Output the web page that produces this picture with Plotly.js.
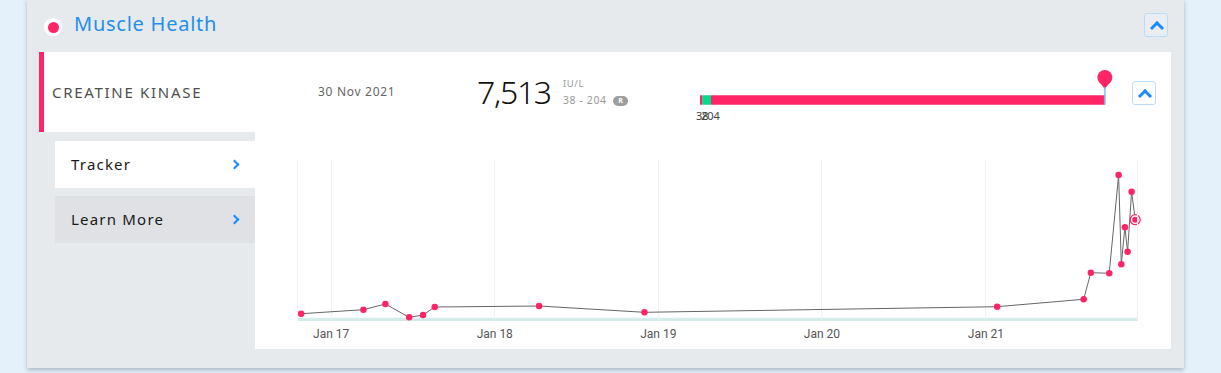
<!DOCTYPE html>
<html>
<head>
<meta charset="utf-8">
<script src="https://cdn.plot.ly/plotly-3.0.1.min.js"></script>
<style>
  html,body{margin:0;padding:0;}
  body{width:1221px;height:373px;background:#e4f0fa;overflow:hidden;position:relative;font-family:"Noto Sans",sans-serif;}
  .abs{position:absolute;}
  #card{left:27px;top:0;width:1157px;height:368px;background:#e7eaed;box-shadow:0 3px 3px rgba(120,140,155,0.35), -2px 0 3px rgba(120,140,155,0.12), 2px 0 3px rgba(120,140,155,0.12);}
  #dotOuter{left:44px;top:18px;width:18px;height:18px;border-radius:50%;background:#fff;}
  #dotInner{left:47.5px;top:21.5px;width:11px;height:11px;border-radius:50%;background:#ff2466;}
  #title{left:74px;top:10px;font-size:20px;line-height:28px;color:#1e8ff0;letter-spacing:0.75px;white-space:nowrap;}
  .btn{width:22px;height:22px;border:1px solid #b8dcfa;border-radius:3px;}
  .up{position:absolute;left:7px;top:9px;width:7px;height:7px;border-left:3px solid #1a8cff;border-top:3px solid #1a8cff;transform:rotate(45deg);}
  #btn1{left:1144px;top:13px;background:#eaeef2;}
  #btn2{left:1132px;top:81px;background:#fff;}
  #hdrRow{left:39px;top:52px;width:1132px;height:80px;background:#fff;}
  #pinkBar{left:39px;top:52px;width:4.5px;height:80px;background:#ff2466;}
  #testName{left:52px;top:81px;font-size:15px;line-height:22px;color:#4f4f4f;letter-spacing:1.7px;white-space:nowrap;}
  #testDate{left:318px;top:83px;font-size:12px;line-height:18px;color:#666;letter-spacing:0.7px;white-space:nowrap;}
  #bigVal{left:477px;top:70px;font-size:32px;line-height:44px;color:#111;letter-spacing:-1.3px;font-weight:300;white-space:nowrap;}
  #unit{left:563px;top:77px;font-size:9.5px;line-height:14px;color:#999;letter-spacing:0.6px;}
  #range{left:563px;top:93px;font-size:10.5px;line-height:14px;color:#999;letter-spacing:0.6px;white-space:nowrap;}
  #rBadge{left:613px;top:96px;width:15px;height:10px;border-radius:5px;background:#9e9e9e;color:#fff;font-size:7px;line-height:10px;text-align:center;font-weight:bold;}
  #chartBg{left:255px;top:132px;width:916px;height:217px;background:#fff;}
  .side{left:55px;width:200px;height:47px;}
  #tracker{top:141px;background:#fff;}
  #learn{top:196px;height:47px;background:#dfe1e5;}
  .sideTxt{position:absolute;left:16px;top:12px;font-size:15px;line-height:22px;color:#1a1a1a;letter-spacing:1.2px;font-weight:400;white-space:nowrap;}
  .chev{position:absolute;left:176px;top:20px;width:5px;height:5px;border-right:2px solid #1a8cff;border-top:2px solid #1a8cff;transform:rotate(45deg);}
  #mainChart{left:255px;top:132px;width:916px;height:217px;}
  #rangeChart{left:690px;top:60px;width:440px;height:70px;}
</style>
</head>
<body>
<div id="card" class="abs"></div>
<div id="dotOuter" class="abs"></div>
<div id="dotInner" class="abs"></div>
<div id="title" class="abs">Muscle Health</div>
<div id="btn1" class="abs btn"><div class="up"></div></div>
<div id="hdrRow" class="abs"></div>
<div id="pinkBar" class="abs"></div>
<div id="testName" class="abs">CREATINE KINASE</div>
<div id="testDate" class="abs">30 Nov 2021</div>
<div id="bigVal" class="abs">7,513</div>
<div id="unit" class="abs">IU/L</div>
<div id="range" class="abs">38 - 204</div>
<div id="rBadge" class="abs">R</div>
<div id="btn2" class="abs btn"><div class="up"></div></div>
<div id="chartBg" class="abs"></div>
<div id="tracker" class="abs side"><div class="sideTxt">Tracker</div><div class="chev"></div></div>
<div id="learn" class="abs side"><div class="sideTxt">Learn More</div><div class="chev"></div></div>
<div id="mainChart" class="abs"></div>
<div id="rangeChart" class="abs"></div>

<script>
// ---- data ----
const dates = [
  "2016-10-26","2017-03-14","2017-05-02","2017-06-24","2017-07-25","2017-08-20",
  "2018-04-10","2018-12-01","2021-01-26","2021-08-07","2021-08-23","2021-10-03",
  "2021-10-24","2021-10-30","2021-11-07","2021-11-13","2021-11-22","2021-11-30"
];
const values = [
  541, 838, 1261, 274, 445, 1038,
  1112, 645, 1061, 1609, 3582, 3538,
  10828, 4205, 6950, 5140, 9590, 7513
];
const rangeLow = 38;
const rangeHigh = 204;
const latestValue = 7513;
const latestDate = "2021-11-30";
const rangeTickLabels = ["38", "204"];

const pink = "#ff2466";
const green = "#06d98a";

// ---- main trend chart ----
const traces = [
  {
    x: dates, y: values, type: "scatter", mode: "lines+markers",
    line: {color: "#666", width: 1},
    marker: {color: pink, size: 6.5},
    cliponaxis: false, hoverinfo: "skip"
  },
  {
    x: [latestDate], y: [latestValue], type: "scatter", mode: "markers",
    marker: {color: "#fff", size: 10, line: {color: pink, width: 1.2}},
    cliponaxis: false, hoverinfo: "skip"
  },
  {
    x: [latestDate], y: [latestValue], type: "scatter", mode: "markers",
    marker: {color: pink, size: 6},
    cliponaxis: false, hoverinfo: "skip"
  }
];
const layout = {
  width: 916, height: 217,
  margin: {l: 43, r: 34, t: 28, b: 28},
  paper_bgcolor: "rgba(0,0,0,0)", plot_bgcolor: "#fff",
  showlegend: false,
  font: {family: "Roboto, sans-serif", size: 12, color: "#555"},
  xaxis: {
    type: "date", range: ["2016-10-19", "2021-12-04"],
    tick0: "2017-01-01", dtick: "M12", tickformat: "%b %y",
    showgrid: true, gridcolor: "#f1f1f1", gridwidth: 1,
    zeroline: false, showline: false, ticks: "", ticklabelstandoff: 4,
    tickfont: {family: "Roboto, sans-serif", size: 12, color: "#555"}
  },
  yaxis: {
    range: [0, 11940], showticklabels: false, showgrid: false, zeroline: false,
    showline: true, mirror: true, linecolor: "#f1f1f1", linewidth: 1, ticks: ""
  },
  shapes: [{
    type: "rect", xref: "paper", x0: 0, x1: 1, yref: "y", y0: rangeLow, y1: rangeHigh,
    fillcolor: "#d3ebe8", line: {color: "#d3ebe8", width: 1}, layer: "below"
  }]
};
Plotly.newPlot("mainChart", traces, layout, {displayModeBar: false, staticPlot: true});

// ---- range bar ----
const barTraces = [
  {type: "bar", orientation: "h", y: [0], x: [rangeLow], base: [0], width: 0.95,
   marker: {color: pink}, hoverinfo: "skip"},
  {type: "bar", orientation: "h", y: [0], x: [rangeHigh - rangeLow], base: [rangeLow], width: 0.95,
   marker: {color: green}, hoverinfo: "skip"},
  {type: "bar", orientation: "h", y: [0], x: [latestValue - rangeHigh], base: [rangeHigh], width: 0.95,
   marker: {color: pink}, hoverinfo: "skip"},
  {type: "scatter", mode: "markers", x: [latestValue], y: [1.65],
   marker: {symbol: "triangle-down", size: 11, color: pink}, hoverinfo: "skip"},
  {type: "scatter", mode: "markers", x: [latestValue], y: [2.25],
   marker: {symbol: "circle", size: 15, color: pink}, hoverinfo: "skip"}
];
const barLayout = {
  width: 440, height: 70,
  margin: {l: 10, r: 0, t: 10, b: 20},
  paper_bgcolor: "rgba(0,0,0,0)", plot_bgcolor: "rgba(0,0,0,0)",
  showlegend: false, barmode: "overlay",
  font: {family: "Noto Sans, sans-serif", size: 11, color: "#444"},
  xaxis: {range: [0, 7980], showgrid: false, zeroline: false, showticklabels: false, fixedrange: true},
  yaxis: {range: [-1, 3], showgrid: false, zeroline: false, showticklabels: false, fixedrange: true},
  shapes: [{
    type: "line", xref: "x", yref: "y", x0: latestValue, x1: latestValue, y0: -0.47, y1: 1.3,
    line: {color: "rgba(120,185,235,0.75)", width: 2}, layer: "above"
  }],
  annotations: rangeTickLabels.map((t, i) => ({
    x: [rangeLow, rangeHigh][i], xref: "x", y: 0, yref: "paper", yanchor: "top", yshift: 3,
    text: t, showarrow: false, font: {size: 11, color: "#444"}, borderpad: 0
  }))
};
Plotly.newPlot("rangeChart", barTraces, barLayout, {displayModeBar: false, staticPlot: true});
</script>
</body>
</html>
